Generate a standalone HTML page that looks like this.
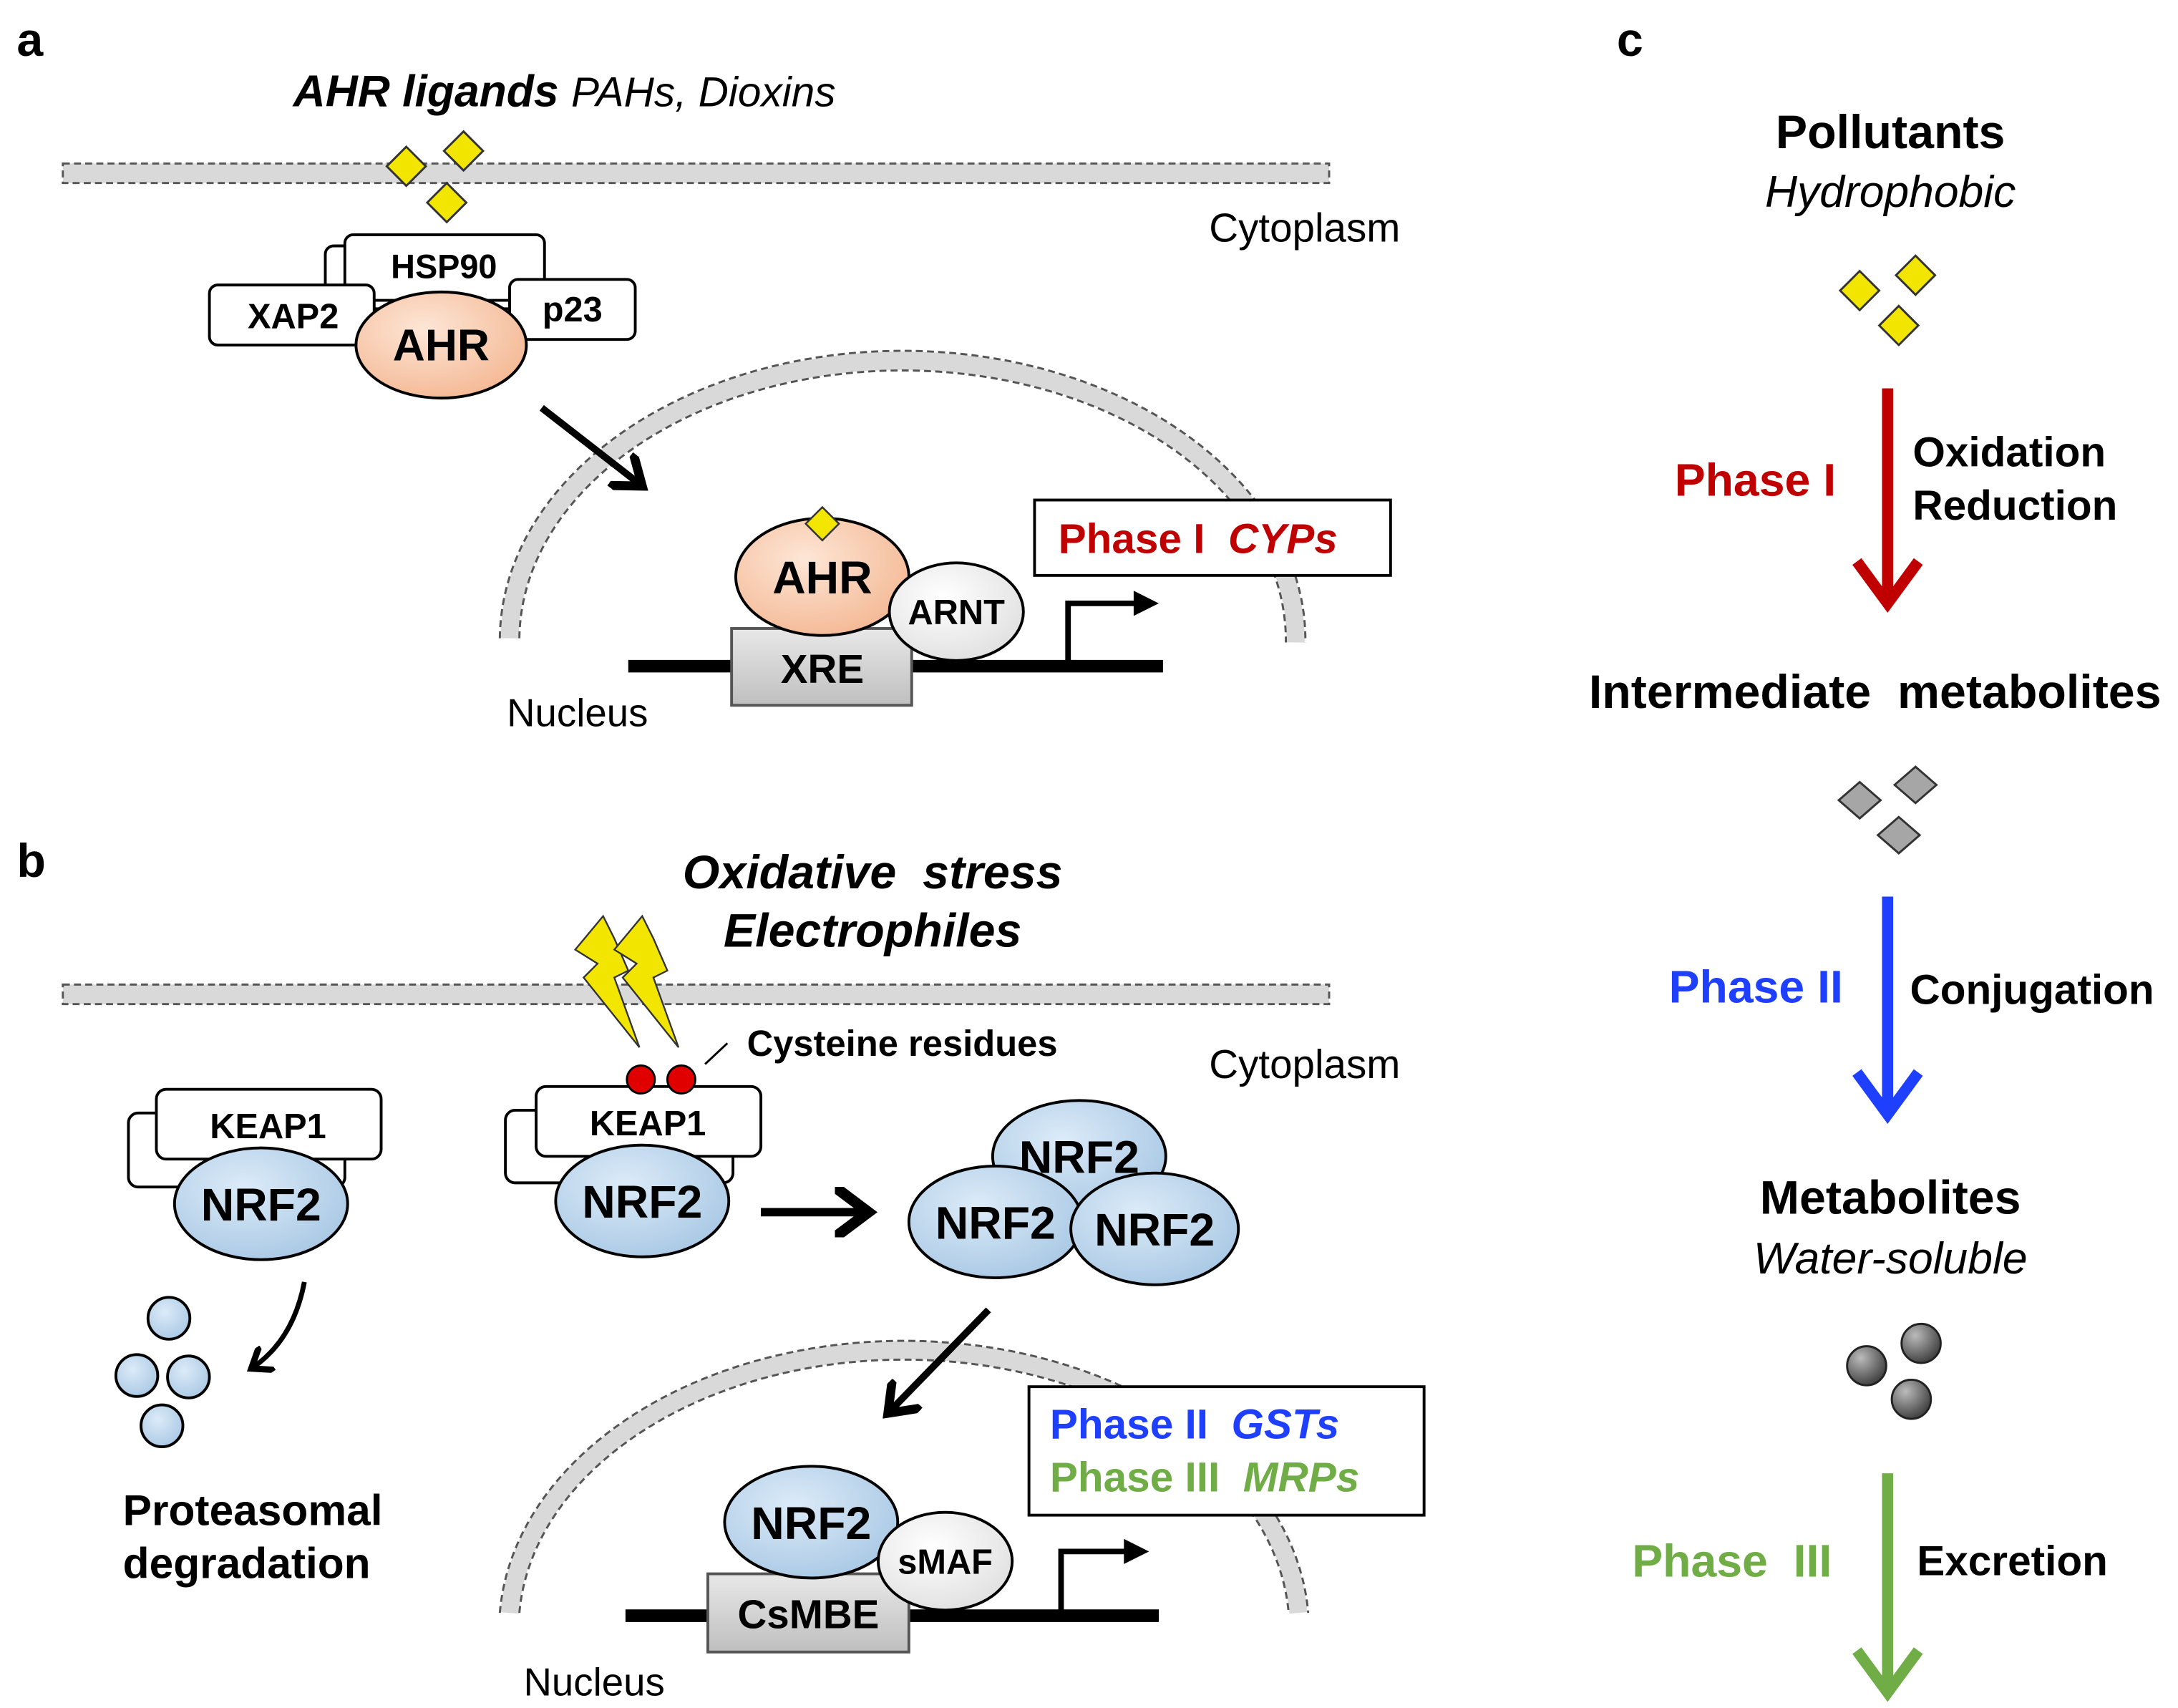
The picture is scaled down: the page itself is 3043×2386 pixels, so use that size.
<!DOCTYPE html>
<html><head><meta charset="utf-8"><style>html,body{margin:0;padding:0;background:#fff}svg{display:block}text{font-family:"Liberation Sans",Arial,sans-serif}</style></head><body>
<svg width="3043" height="2386" viewBox="0 0 1560 1223" xmlns="http://www.w3.org/2000/svg">
<defs>
<radialGradient id="ahr" cx="40%" cy="35%" r="70%"><stop offset="0" stop-color="#fde6d6"/><stop offset="1" stop-color="#f4b894"/></radialGradient>
<radialGradient id="nrf" cx="40%" cy="35%" r="70%"><stop offset="0" stop-color="#dcebf8"/><stop offset="1" stop-color="#a9c8e4"/></radialGradient>
<radialGradient id="wh" cx="40%" cy="35%" r="70%"><stop offset="0" stop-color="#fff"/><stop offset="1" stop-color="#e0e0e0"/></radialGradient>
<radialGradient id="dk" cx="35%" cy="30%" r="70%"><stop offset="0" stop-color="#bbb"/><stop offset="1" stop-color="#444"/></radialGradient>
<linearGradient id="gy" x1="0" y1="0" x2="0" y2="1"><stop offset="0" stop-color="#e8e8e8"/><stop offset="1" stop-color="#bfbfbf"/></linearGradient>
<marker id="ah" markerWidth="6" markerHeight="6" refX="4" refY="3" orient="auto" markerUnits="strokeWidth"><path d="M0,0 L4,3 L0,6" fill="none" stroke="#000" stroke-width="1.3"/></marker>
<g id="yd"><path d="M0,-14 L14,0 L0,14 L-14,0Z" fill="#f2e600" stroke="#333" stroke-width="1.5"/></g>
<g id="gd"><path d="M0,-13 L15,0 L0,13 L-15,0Z" fill="#a6a6a6" stroke="#333" stroke-width="1.5"/></g>
</defs>
<g fill="#000">
<!-- Panel a -->
<text x="12" y="40" font-size="34" font-weight="bold">a</text>
<text x="210" y="76" font-size="32" font-weight="bold" font-style="italic">AHR ligands <tspan font-weight="normal" font-size="30">PAHs, Dioxins</tspan></text>
<rect x="45" y="117" width="907" height="14" fill="#d9d9d9" stroke="#555" stroke-width="1.5" stroke-dasharray="5,3"/>
<use href="#yd" x="291" y="119"/><use href="#yd" x="332" y="108"/><use href="#yd" x="320" y="145"/>
<text x="866" y="173" font-size="29">Cytoplasm</text>
<rect x="233" y="176" width="143" height="45" rx="6" fill="#fff" stroke="#000" stroke-width="2"/>
<rect x="247" y="168" width="143" height="47" rx="6" fill="#fff" stroke="#000" stroke-width="2"/>
<text x="318" y="199" font-size="24" font-weight="bold" text-anchor="middle">HSP90</text>
<rect x="150" y="204" width="118" height="43" rx="6" fill="#fff" stroke="#000" stroke-width="2"/>
<text x="210" y="235" font-size="25" font-weight="bold" text-anchor="middle">XAP2</text>
<rect x="365" y="200" width="90" height="43" rx="6" fill="#fff" stroke="#000" stroke-width="2"/>
<text x="410" y="230" font-size="25" font-weight="bold" text-anchor="middle">p23</text>
<ellipse cx="316" cy="247" rx="61" ry="38" fill="url(#ahr)" stroke="#000" stroke-width="2"/>
<text x="316" y="258" font-size="32" font-weight="bold" text-anchor="middle">AHR</text>
<path d="M365,457 A281,200 0 0 1 928,460" fill="none" stroke="#d9d9d9" stroke-width="13"/>
<path d="M358,457 A288,207 0 0 1 935,460" fill="none" stroke="#555" stroke-width="1.5" stroke-dasharray="5,3"/>
<path d="M372,457 A274,193 0 0 1 921,460" fill="none" stroke="#555" stroke-width="1.5" stroke-dasharray="5,3"/>
<line x1="388" y1="292" x2="460" y2="348" stroke="#000" stroke-width="5" marker-end="url(#ah)"/>
<rect x="741" y="358" width="255" height="54" fill="#fff" stroke="#000" stroke-width="2"/>
<text x="758" y="396" font-size="30" font-weight="bold" fill="#c00000" xml:space="preserve">Phase I  <tspan font-style="italic">CYPs</tspan></text>
<line x1="450" y1="477" x2="833" y2="477" stroke="#000" stroke-width="9"/>
<path d="M765,477 V432 H815" fill="none" stroke="#000" stroke-width="4"/>
<path d="M812,423 L830,432 L812,441Z"/>
<rect x="524" y="450" width="129" height="55" fill="url(#gy)" stroke="#555" stroke-width="2"/>
<text x="589" y="489" font-size="29" font-weight="bold" text-anchor="middle">XRE</text>
<ellipse cx="589" cy="413" rx="62" ry="42" fill="url(#ahr)" stroke="#000" stroke-width="2"/>
<text x="589" y="425" font-size="33" font-weight="bold" text-anchor="middle">AHR</text>
<use href="#yd" x="589" y="375" transform="translate(589 375) scale(0.85) translate(-589 -375)"/>
<ellipse cx="685" cy="438" rx="48" ry="35" fill="url(#wh)" stroke="#000" stroke-width="2"/>
<text x="685" y="447" font-size="25" font-weight="bold" text-anchor="middle">ARNT</text>
<text x="363" y="520" font-size="28">Nucleus</text>

<!-- Panel b -->
<text x="12" y="628" font-size="34" font-weight="bold">b</text>
<text x="625" y="636" font-size="34" font-weight="bold" font-style="italic" text-anchor="middle" xml:space="preserve">Oxidative  stress</text>
<text x="625" y="678" font-size="34" font-weight="bold" font-style="italic" text-anchor="middle">Electrophiles</text>
<rect x="45" y="705" width="907" height="14" fill="#d9d9d9" stroke="#555" stroke-width="1.5" stroke-dasharray="5,3"/>
<path d="M432,656 L412,680 L428,690 L418,700 L458,750 L440,700 L450,695 L440,672Z" fill="#f2e600" stroke="#333" stroke-width="1.2"/>
<path d="M460,656 L440,680 L456,690 L446,700 L486,750 L468,700 L478,695 L468,672Z" fill="#f2e600" stroke="#333" stroke-width="1.2"/>
<text x="535" y="756" font-size="26" font-weight="bold">Cysteine residues</text>
<line x1="505" y1="762" x2="521" y2="747" stroke="#000" stroke-width="1.5"/>
<text x="866" y="772" font-size="29">Cytoplasm</text>
<rect x="92" y="797" width="155" height="53" rx="7" fill="#fff" stroke="#000" stroke-width="2"/>
<rect x="112" y="780" width="161" height="50" rx="7" fill="#fff" stroke="#000" stroke-width="2"/>
<text x="192" y="815" font-size="25" font-weight="bold" text-anchor="middle">KEAP1</text>
<ellipse cx="187" cy="862" rx="62" ry="40" fill="url(#nrf)" stroke="#000" stroke-width="2"/>
<text x="187" y="874" font-size="33" font-weight="bold" text-anchor="middle">NRF2</text>
<rect x="362" y="795" width="163" height="52" rx="7" fill="#fff" stroke="#000" stroke-width="2"/>
<rect x="384" y="778" width="161" height="50" rx="7" fill="#fff" stroke="#000" stroke-width="2"/>
<text x="464" y="813" font-size="25" font-weight="bold" text-anchor="middle">KEAP1</text>
<circle cx="459" cy="773" r="10" fill="#e00000" stroke="#000" stroke-width="1.5"/>
<circle cx="488" cy="773" r="10" fill="#e00000" stroke="#000" stroke-width="1.5"/>
<ellipse cx="460" cy="860" rx="62" ry="40" fill="url(#nrf)" stroke="#000" stroke-width="2"/>
<text x="460" y="872" font-size="33" font-weight="bold" text-anchor="middle">NRF2</text>
<line x1="545" y1="868" x2="622" y2="868" stroke="#000" stroke-width="6" marker-end="url(#ah)"/>
<ellipse cx="773" cy="828" rx="62" ry="40" fill="url(#nrf)" stroke="#000" stroke-width="2"/>
<text x="773" y="840" font-size="33" font-weight="bold" text-anchor="middle">NRF2</text>
<ellipse cx="713" cy="875" rx="62" ry="40" fill="url(#nrf)" stroke="#000" stroke-width="2"/>
<text x="713" y="887" font-size="33" font-weight="bold" text-anchor="middle">NRF2</text>
<ellipse cx="827" cy="880" rx="60" ry="40" fill="url(#nrf)" stroke="#000" stroke-width="2"/>
<text x="827" y="892" font-size="33" font-weight="bold" text-anchor="middle">NRF2</text>
<path d="M218,918 Q210,960 180,980" fill="none" stroke="#000" stroke-width="3.5" marker-end="url(#ah)"/>
<circle cx="121" cy="944" r="15" fill="url(#nrf)" stroke="#000" stroke-width="2"/>
<circle cx="98" cy="985" r="15" fill="url(#nrf)" stroke="#000" stroke-width="2"/>
<circle cx="135" cy="986" r="15" fill="url(#nrf)" stroke="#000" stroke-width="2"/>
<circle cx="116" cy="1021" r="15" fill="url(#nrf)" stroke="#000" stroke-width="2"/>
<text x="88" y="1092" font-size="31" font-weight="bold">Proteasomal</text>
<text x="88" y="1130" font-size="31" font-weight="bold">degradation</text>
<path d="M365,1155 A283,200 0 0 1 930,1155" fill="none" stroke="#d9d9d9" stroke-width="13"/>
<path d="M358,1155 A290,207 0 0 1 937,1155" fill="none" stroke="#555" stroke-width="1.5" stroke-dasharray="5,3"/>
<path d="M372,1155 A276,193 0 0 1 923,1155" fill="none" stroke="#555" stroke-width="1.5" stroke-dasharray="5,3"/>
<line x1="708" y1="938" x2="636" y2="1012" stroke="#000" stroke-width="5" marker-end="url(#ah)"/>
<rect x="737" y="993" width="283" height="92" fill="#fff" stroke="#000" stroke-width="2"/>
<text x="752" y="1030" font-size="30" font-weight="bold" fill="#1f3fff" xml:space="preserve">Phase II  <tspan font-style="italic">GSTs</tspan></text>
<text x="752" y="1068" font-size="30" font-weight="bold" fill="#70ad47" xml:space="preserve">Phase III  <tspan font-style="italic">MRPs</tspan></text>
<line x1="448" y1="1157" x2="830" y2="1157" stroke="#000" stroke-width="9"/>
<path d="M760,1157 V1111 H808" fill="none" stroke="#000" stroke-width="4"/>
<path d="M805,1102 L823,1111 L805,1120Z"/>
<rect x="507" y="1127" width="144" height="56" fill="url(#gy)" stroke="#555" stroke-width="2"/>
<text x="579" y="1166" font-size="29" font-weight="bold" text-anchor="middle">CsMBE</text>
<ellipse cx="581" cy="1090" rx="62" ry="40" fill="url(#nrf)" stroke="#000" stroke-width="2"/>
<text x="581" y="1102" font-size="33" font-weight="bold" text-anchor="middle">NRF2</text>
<ellipse cx="677" cy="1118" rx="48" ry="35" fill="url(#wh)" stroke="#000" stroke-width="2"/>
<text x="677" y="1127" font-size="25" font-weight="bold" text-anchor="middle">sMAF</text>
<text x="375" y="1214" font-size="28">Nucleus</text>

<!-- Panel c -->
<text x="1158" y="40" font-size="34" font-weight="bold">c</text>
<text x="1354" y="106" font-size="34" font-weight="bold" text-anchor="middle">Pollutants</text>
<text x="1354" y="148" font-size="32" font-style="italic" text-anchor="middle">Hydrophobic</text>
<use href="#yd" x="1332" y="208"/><use href="#yd" x="1372" y="197"/><use href="#yd" x="1360" y="233"/>
<line x1="1352" y1="278" x2="1352" y2="428" stroke="#c00000" stroke-width="8"/>
<path d="M1330,402 L1352,432 L1374,402" fill="none" stroke="#c00000" stroke-width="8"/>
<text x="1315" y="355" font-size="33" font-weight="bold" fill="#c00000" text-anchor="end">Phase I</text>
<text x="1370" y="334" font-size="30" font-weight="bold">Oxidation</text>
<text x="1370" y="372" font-size="30" font-weight="bold">Reduction</text>
<text x="1343" y="507" font-size="34" font-weight="bold" text-anchor="middle" xml:space="preserve">Intermediate  metabolites</text>
<use href="#gd" x="1332" y="573"/><use href="#gd" x="1372" y="562"/><use href="#gd" x="1360" y="598"/>
<line x1="1352" y1="642" x2="1352" y2="794" stroke="#1f3fff" stroke-width="8"/>
<path d="M1330,768 L1352,798 L1374,768" fill="none" stroke="#1f3fff" stroke-width="8"/>
<text x="1320" y="718" font-size="33" font-weight="bold" fill="#1f3fff" text-anchor="end">Phase II</text>
<text x="1368" y="719" font-size="30" font-weight="bold">Conjugation</text>
<text x="1354" y="869" font-size="34" font-weight="bold" text-anchor="middle">Metabolites</text>
<text x="1354" y="912" font-size="32" font-style="italic" text-anchor="middle">Water-soluble</text>
<circle cx="1376" cy="962" r="14" fill="url(#dk)" stroke="#222" stroke-width="1.5"/>
<circle cx="1337" cy="978" r="14" fill="url(#dk)" stroke="#222" stroke-width="1.5"/>
<circle cx="1369" cy="1002" r="14" fill="url(#dk)" stroke="#222" stroke-width="1.5"/>
<line x1="1352" y1="1055" x2="1352" y2="1208" stroke="#70ad47" stroke-width="8"/>
<path d="M1330,1182 L1352,1212 L1374,1182" fill="none" stroke="#70ad47" stroke-width="8"/>
<text x="1312" y="1129" font-size="33" font-weight="bold" fill="#70ad47" text-anchor="end" xml:space="preserve">Phase  III</text>
<text x="1373" y="1128" font-size="30" font-weight="bold">Excretion</text>
</g>
</svg>
</body></html>
